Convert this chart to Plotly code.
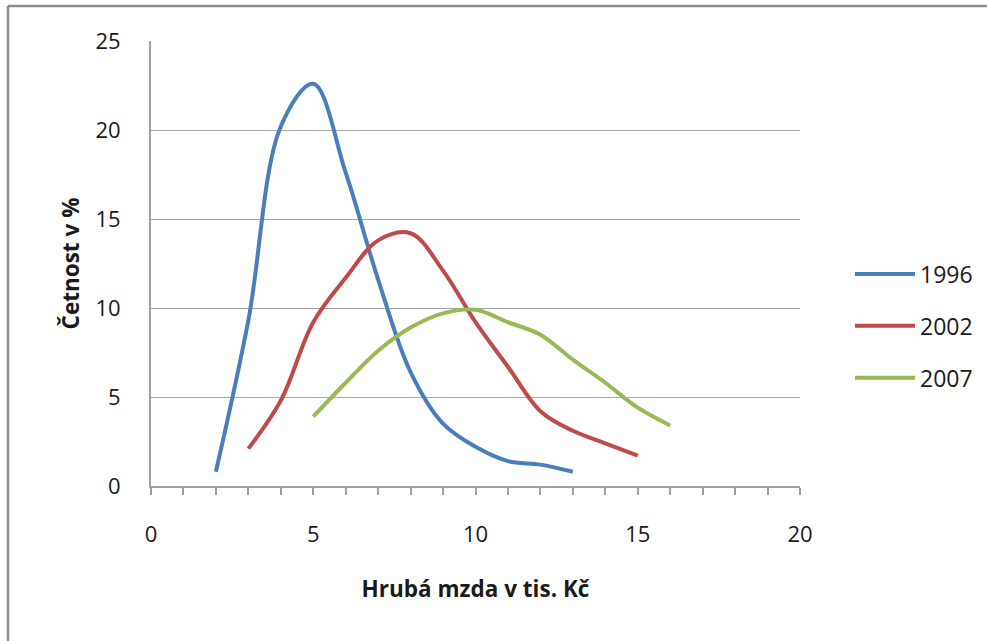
import plotly.graph_objects as go

# Data
x_1996 = [2, 3, 4, 5, 6, 7, 8, 9, 10, 11, 12, 13]
y_1996 = [0.8, 9.3, 20.2, 22.6, 17.6, 11.6, 6.4, 3.5, 2.2, 1.4, 1.2, 0.8]

x_2002 = [3, 4, 5, 6, 7, 8, 9, 10, 11, 12, 13, 14, 15]
y_2002 = [2.1, 4.8, 9.2, 11.7, 13.8, 14.2, 12.1, 9.2, 6.7, 4.2, 3.1, 2.4, 1.7]

x_2007 = [5, 6, 7, 8, 9, 10, 11, 12, 13, 14, 15, 16]
y_2007 = [3.9, 5.8, 7.6, 8.9, 9.7, 9.9, 9.2, 8.5, 7.1, 5.8, 4.4, 3.4]

series_names = ["1996", "2002", "2007"]
series_colors = ["#4A7EBB", "#BE4B48", "#98B954"]

x_title = "Hrubá mzda v tis. Kč"
y_title = "Četnost v %"

FONT = "Open Sans"

fig = go.Figure()
for i, (xs, ys) in enumerate([(x_1996, y_1996), (x_2002, y_2002), (x_2007, y_2007)]):
    fig.add_trace(go.Scatter(
        x=xs, y=ys, mode="lines", name=series_names[i],
        legendgroup=series_names[i],
        line=dict(color=series_colors[i], width=4, shape="spline", smoothing=1.0),
    ))

fig.update_layout(
    width=987, height=641,
    margin=dict(l=151, r=187, t=41, b=155, autoexpand=False),
    paper_bgcolor="white", plot_bgcolor="white",
    font=dict(family=FONT, size=22, color="#1a1a1a"),
    showlegend=True,
    legend=dict(
        x=(850 - 151) / 649, xanchor="left", xref="paper",
        y=(486 - 326) / 445, yanchor="middle",
        font=dict(family=FONT, size=23, color="#1a1a1a"),
        tracegroupgap=19,
        itemwidth=60,
        bgcolor="rgba(0,0,0,0)",
    ),
    xaxis=dict(
        range=[0, 20], dtick=5, tick0=0,
        showgrid=False, zeroline=False,
        showline=True, linecolor="#A0A0A0", linewidth=2,
        ticks="outside", ticklen=7, tickcolor="#A0A0A0", tickwidth=1.5,
        minor=dict(dtick=1, ticks="outside", ticklen=7, tickcolor="#A0A0A0", tickwidth=1.5),
        ticklabelstandoff=21,
        tickfont=dict(family=FONT, size=22, color="#1a1a1a"),
        title=dict(text="<b>" + x_title + "</b>", standoff=34,
                   font=dict(family=FONT, size=22.5, color="#1a1a1a")),
    ),
    yaxis=dict(
        range=[0, 25], dtick=5, tick0=0,
        showgrid=True, gridcolor="#A6A6A6", gridwidth=1.3,
        zeroline=False,
        showline=True, linecolor="#A0A0A0", linewidth=2,
        ticks="", ticklabelstandoff=24,
        tickfont=dict(family=FONT, size=22, color="#1a1a1a"),
        title=dict(text="<b>" + y_title + "</b>", standoff=10,
                   font=dict(family=FONT, size=22.5, color="#1a1a1a")),
    ),
    shapes=[
        dict(type="line", xref="paper", yref="paper",
             x0=(8 - 151) / 649, x1=(8 - 151) / 649,
             y0=(486 - 6) / 445, y1=(486 - 645) / 445,
             line=dict(color="#8C8C8C", width=2.5)),
        dict(type="line", xref="paper", yref="paper",
             x0=(8 - 151) / 649, x1=(990 - 151) / 649,
             y0=(486 - 6) / 445, y1=(486 - 6) / 445,
             line=dict(color="#8C8C8C", width=2.5)),
    ],
)

fig.write_html("out.html")
